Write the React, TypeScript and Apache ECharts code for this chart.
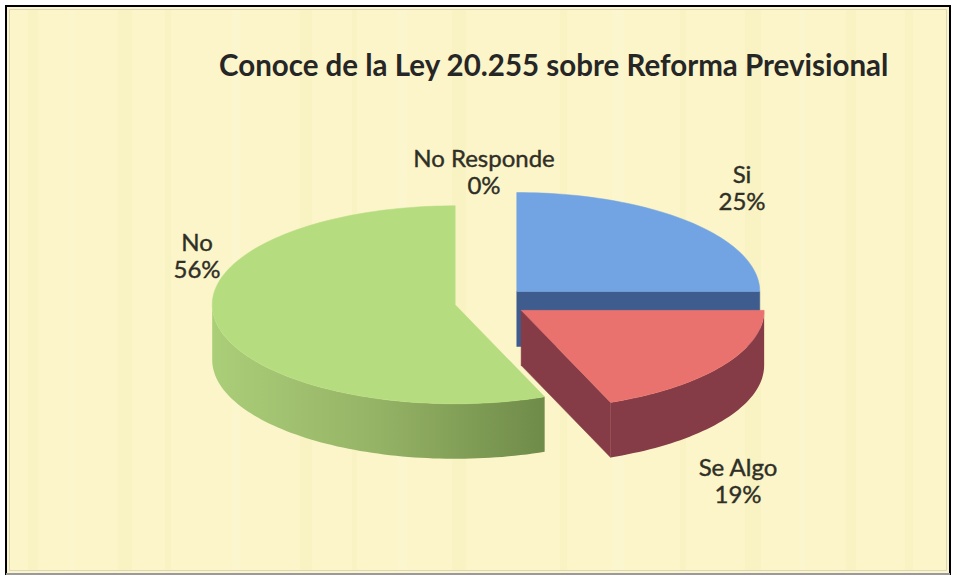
import React, { useEffect, useRef } from "react";
import * as echarts from "echarts";

// ---------- data ----------
const categories = ["Si", "Se Algo", "No", "No Responde"];
const values = [25, 19, 56, 0];
const titleText = "Conoce de la Ley 20.255 sobre Reforma Previsional";

// ---------- layout / style ----------
const W = 957;
const H = 579;
const CX = 491;
const CY = 302;
const RX = 243;
const RY = 99;
const DEPTH = 55;
const EXPLODE = 0.15;
const DEG = Math.PI / 180;

const topColors = ["#72A3E3", "#E9726F", "#B6DC80", "#B6DC80"];
const faceColors = ["#3E5C8E", "#863C46", "#7C9A52", "#7C9A52"];
const sideFills: any[] = [
  "#3E5C8E",
  "#863C46",
  {
    type: "linear",
    x: 0,
    y: 0,
    x2: 1,
    y2: 0,
    colorStops: [
      { offset: 0, color: "#ABCE79" },
      { offset: 0.5, color: "#95B365" },
      { offset: 1, color: "#6F8B49" },
    ],
  },
  "#7C9A52",
];
// label anchors (layout), one per category
const labelPos: number[][] = [
  [742, 187],
  [738, 480],
  [197, 255],
  [484, 171],
];
// faint vertical streaks of the parchment background: [x, width, darker?]
const streaks: number[][] = [
  [28, 10, 1], [70, 4, 0], [118, 14, 1], [165, 6, 1], [232, 8, 0], [300, 12, 1],
  [352, 5, 1], [398, 9, 0], [452, 14, 1], [560, 7, 1], [612, 12, 0], [680, 6, 1],
  [745, 16, 1], [800, 5, 0], [846, 10, 1], [905, 8, 1],
];

const total = values.reduce((a, b) => a + b, 0);
const starts: number[] = [];
values.reduce((acc, v, i) => {
  starts[i] = acc;
  return acc + v;
}, 0);

function pt(cx: number, cy: number, deg: number, dy = 0): number[] {
  const t = deg * DEG;
  return [cx + RX * Math.sin(t), cy - RY * Math.cos(t) + dy];
}
function arc(cx: number, cy: number, a1: number, a2: number, dy: number) {
  const pts: number[][] = [];
  const n = Math.max(1, Math.ceil(Math.abs(a2 - a1) / 1.5));
  for (let k = 0; k <= n; k++) pts.push(pt(cx, cy, a1 + ((a2 - a1) * k) / n, dy));
  return pts;
}

function renderItem(params: any, api: any) {
  const i = params.dataIndex;
  const v = api.value(0);
  const s = (starts[i] / total) * 360;
  const e = ((starts[i] + v) / total) * 360;
  const mid = (s + e) / 2;
  const cx = CX + EXPLODE * RX * Math.sin(mid * DEG);
  const cy = CY - EXPLODE * RY * Math.cos(mid * DEG);
  const children: any[] = [];
  if (e - s > 0.01) {
    const face = (a: number) => {
      const p = pt(cx, cy, a);
      return {
        type: "polygon",
        shape: { points: [[cx, cy], p, [p[0], p[1] + DEPTH], [cx, cy + DEPTH]] },
        style: { fill: faceColors[i], stroke: faceColors[i], lineWidth: 0.5 },
      };
    };
    if (Math.cos((s - 90) * DEG) < -0.05) children.push(face(s));
    if (Math.cos((e + 90) * DEG) < -0.05) children.push(face(e));
    const a1 = Math.max(s, 90);
    const a2 = Math.min(e, 270);
    if (a2 > a1) {
      children.push({
        type: "polygon",
        shape: { points: [...arc(cx, cy, a1, a2, 0), ...arc(cx, cy, a2, a1, DEPTH)] },
        style: { fill: sideFills[i] },
      });
    }
    children.push({
      type: "polygon",
      shape: { points: [[cx, cy], ...arc(cx, cy, s, e, 0)] },
      style: { fill: topColors[i], stroke: topColors[i], lineWidth: 0.5 },
    });
  }
  const pct = Math.round((v / total) * 100) + "%";
  const lp = labelPos[i];
  children.push({
    type: "text",
    x: lp[0],
    y: lp[1],
    z2: 10,
    style: {
      text: categories[i] + "\n" + pct,
      fill: "#2F2F26",
      font: "24px Lato",
      align: "center",
      verticalAlign: "middle",
      textAlign: "center",
      textVerticalAlign: "middle",
      lineHeight: 27,
      stroke: "#2F2F26",
      lineWidth: 0.4,
    },
  });
  return { type: "group", children };
}

export default function App() {
  const ref = useRef<HTMLDivElement>(null);
  useEffect(() => {
    if (!ref.current) return;
    const chart = echarts.init(ref.current, undefined, { renderer: "svg" });
    const streakEls = streaks.map((s) => ({
      type: "rect",
      z: -8,
      silent: true,
      shape: { x: s[0], y: 10, width: s[1], height: 560 },
      style: { fill: s[2] ? "#F1E4A8" : "#FFFDEA", opacity: 0.16 },
    }));
    chart.setOption({
      animation: false,
      backgroundColor: "#FFFFFF",
      title: {
        text: titleText,
        left: 214,
        top: 44,
        textStyle: {
          fontFamily: "Lato",
          fontWeight: "bold",
          fontSize: 29.5,
          color: "#262626",
        },
      },
      graphic: [
        {
          type: "rect",
          z: -10,
          shape: { x: 6, y: 6, width: 944, height: 568 },
          style: { fill: "#FBF5C9", stroke: "#000000", lineWidth: 2 },
          silent: true,
        },
        ...streakEls,
        {
          type: "line",
          z: -7,
          shape: { x1: 6, y1: 574, x2: 950, y2: 574 },
          style: { stroke: "#9A9A9A", lineWidth: 2 },
          silent: true,
        },
        {
          type: "rect",
          z: -7,
          shape: { x: 9.5, y: 9.5, width: 937, height: 561 },
          style: { fill: "none", stroke: "#DCD7BC", lineWidth: 1 },
          silent: true,
        },
      ],
      series: [
        {
          type: "custom",
          coordinateSystem: "none",
          renderItem,
          data: values.map((v, i) => ({ name: categories[i], value: v })),
        },
      ],
    });
    return () => chart.dispose();
  }, []);
  return (
    <div
      ref={ref}
      style={{ position: "fixed", left: 0, top: 0, width: W, height: H }}
    />
  );
}
